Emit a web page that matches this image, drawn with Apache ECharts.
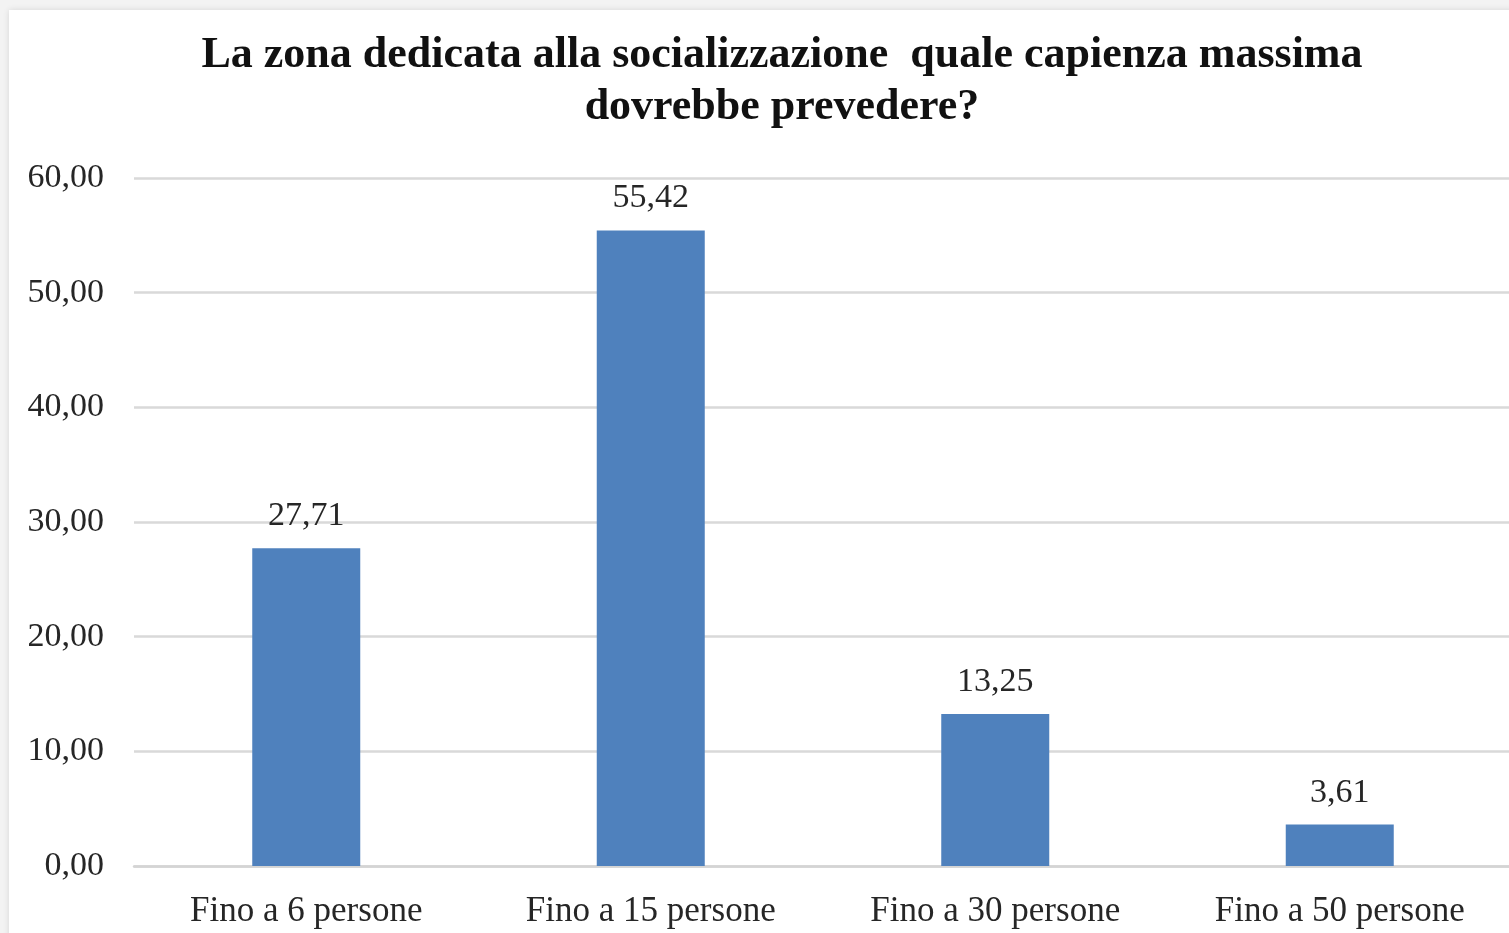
<!DOCTYPE html>
<html>
<head>
<meta charset="utf-8">
<script src="https://cdn.jsdelivr.net/npm/echarts@6/dist/echarts.min.js"></script>
<style>
html,body{margin:0;padding:0;width:1509px;height:933px;overflow:hidden;background:#f3f3f3;}
#card{position:absolute;left:9px;top:10px;width:1520px;height:940px;background:#fff;box-shadow:0 0 6px rgba(0,0,0,0.12);}
#chart{position:absolute;left:0;top:0;width:1512px;height:933px;}
</style>
</head>
<body>
<div id="card"></div>
<div id="chart"></div>
<script>
const titleText = 'La zona dedicata alla socializzazione  quale capienza massima\ndovrebbe prevedere?';
const categories = ['Fino a 6 persone', 'Fino a 15 persone', 'Fino a 30 persone', 'Fino a 50 persone'];
const values = [27.71, 55.42, 13.25, 3.61];
const yMin = 0, yMax = 60, yStep = 10;

const fmt = v => Number(v).toFixed(2).replace('.', ',');
const chart = echarts.init(document.getElementById('chart'), null, {renderer: 'canvas'});
const serif = '"Liberation Serif", "Times New Roman", serif';
chart.setOption({
  backgroundColor: 'transparent',
  animation: false,
  title: {
    text: titleText,
    left: 777, textAlign: 'center', top: 25,
    textStyle: {fontFamily: serif, fontSize: 44, fontWeight: 'bold', color: '#111', lineHeight: 52}
  },
  grid: {left: 134, right: 0, top: 178, height: 688, containLabel: false},
  xAxis: {
    type: 'category', data: categories,
    axisLine: {show: true, lineStyle: {color: '#d4d4d4', width: 2.5}},
    axisTick: {show: false},
    axisLabel: {fontFamily: serif, fontSize: 35, color: '#262626', margin: 28}
  },
  yAxis: {
    type: 'value', min: yMin, max: yMax, interval: yStep,
    axisLine: {show: false}, axisTick: {show: false},
    splitLine: {lineStyle: {color: '#d9d9d9', width: 2.5}},
    axisLabel: {fontFamily: serif, fontSize: 34, color: '#262626', margin: 30, formatter: fmt}
  },
  series: [{
    type: 'bar', data: values, barWidth: 108,
    itemStyle: {color: '#4F81BD'},
    label: {show: true, position: 'top', distance: 15, fontFamily: serif, fontSize: 34, color: '#262626', formatter: p => fmt(p.value)}
  }]
});
</script>
</body>
</html>
